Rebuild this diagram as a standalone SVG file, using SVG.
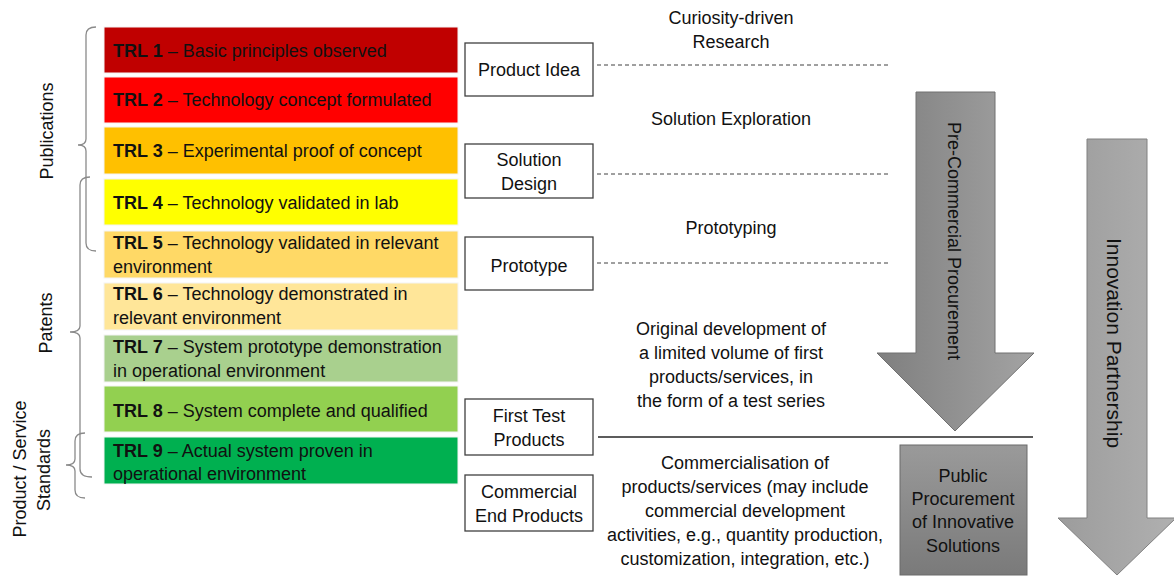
<svg xmlns="http://www.w3.org/2000/svg" width="1174" height="577" viewBox="0 0 1174 577">
<style>
text{font-family:"Liberation Sans",Arial,sans-serif;font-size:18px;fill:#111}
.b{font-weight:bold}
.c{text-anchor:middle}
.trl{stroke:#f4f4f4;stroke-width:1}
.box{fill:#fff;stroke:#404040;stroke-width:1.3}
.brace{fill:none;stroke:#8a8a8a;stroke-width:1.3}
.dash{stroke:#404040;stroke-width:1;stroke-dasharray:4 3}
</style>
<defs>
<linearGradient id="g1" x1="0" y1="0" x2="1" y2="0"><stop offset="0" stop-color="#7f7f7f"/><stop offset="1" stop-color="#a3a3a3"/></linearGradient>
<linearGradient id="g2" x1="0" y1="0" x2="1" y2="0"><stop offset="0" stop-color="#9c9c9c"/><stop offset="1" stop-color="#b0b0b0"/></linearGradient>
<linearGradient id="g3" x1="0" y1="0" x2="0" y2="1"><stop offset="0" stop-color="#9a9a9a"/><stop offset="1" stop-color="#7a7a7a"/></linearGradient>
</defs>

<g id="side-labels">
<text class="c" transform="translate(53,131) rotate(-90)">Publications</text>
<text class="c" transform="translate(52,323) rotate(-90)">Patents</text>
<text class="c" transform="translate(26,469) rotate(-90)">Product / Service</text>
<text class="c" transform="translate(50,470) rotate(-90)">Standards</text>
</g>

<g id="braces">
<path class="brace" d="M96,27 Q86,27 86,35 L86,139 Q86,145 78,145 Q86,145 86,151 L86,243 Q86,251 96,251"/>
<path class="brace" d="M90,177 Q80,177 80,185 L80,326 Q80,332 70,332 Q80,332 80,338 L80,469 Q80,477 92,477"/>
<path class="brace" d="M85,433 Q75,433 75,441 L75,459 Q75,465 66,465 Q75,465 75,471 L75,490 Q75,498 85,498"/>
</g>

<g id="trl1"><rect class="trl" x="104" y="27" width="354" height="46" fill="#C00000"/><text x="113" y="57"><tspan class="b">TRL 1</tspan> – Basic principles observed</text></g>
<g id="trl2"><rect class="trl" x="104" y="77" width="354" height="46" fill="#FF0000"/><text x="113" y="106"><tspan class="b">TRL 2</tspan> – Technology concept formulated</text></g>
<g id="trl3"><rect class="trl" x="104" y="127" width="354" height="47" fill="#FFC000"/><text x="113" y="157"><tspan class="b">TRL 3</tspan> – Experimental proof of concept</text></g>
<g id="trl4"><rect class="trl" x="104" y="179" width="354" height="46" fill="#FFFF00"/><text x="113" y="209"><tspan class="b">TRL 4</tspan> – Technology validated in lab</text></g>
<g id="trl5"><rect class="trl" x="104" y="231" width="354" height="47" fill="#FFD966"/><text x="113" y="249"><tspan class="b">TRL 5</tspan> – Technology validated in relevant</text><text x="113" y="273">environment</text></g>
<g id="trl6"><rect class="trl" x="104" y="283" width="354" height="47" fill="#FFE699"/><text x="113" y="300"><tspan class="b">TRL 6</tspan> – Technology demonstrated in</text><text x="113" y="324">relevant environment</text></g>
<g id="trl7"><rect class="trl" x="104" y="335" width="354" height="47" fill="#A9D08E"/><text x="113" y="353"><tspan class="b">TRL 7</tspan> – System prototype demonstration</text><text x="113" y="377">in operational environment</text></g>
<g id="trl8"><rect class="trl" x="104" y="386" width="354" height="46" fill="#92D050"/><text x="113" y="417"><tspan class="b">TRL 8</tspan> – System complete and qualified</text></g>
<g id="trl9"><rect class="trl" x="104" y="437" width="354" height="47" fill="#00B050"/><text x="113" y="457"><tspan class="b">TRL 9</tspan> – Actual system proven in</text><text x="113" y="480">operational environment</text></g>

<g id="product-idea"><rect class="box" x="465" y="43" width="128" height="53"/><text class="c" x="529" y="76">Product Idea</text></g>
<g id="solution-design"><rect class="box" x="465" y="144" width="128" height="54"/><text class="c" x="529" y="166">Solution</text><text class="c" x="529" y="190">Design</text></g>
<g id="prototype"><rect class="box" x="465" y="237" width="128" height="53"/><text class="c" x="529" y="272">Prototype</text></g>
<g id="first-test"><rect class="box" x="465" y="399" width="128" height="56"/><text class="c" x="529" y="422">First Test</text><text class="c" x="529" y="446">Products</text></g>
<g id="commercial"><rect class="box" x="465" y="475" width="128" height="56"/><text class="c" x="529" y="498">Commercial</text><text class="c" x="529" y="522">End Products</text></g>

<g id="connectors">
<line class="dash" x1="597" y1="65" x2="888" y2="65"/>
<line class="dash" x1="597" y1="174" x2="888" y2="174"/>
<line class="dash" x1="597" y1="263" x2="888" y2="263"/>
<line x1="598" y1="437" x2="1033" y2="437" stroke="#262626" stroke-width="1.6"/>
</g>

<g id="phase-labels">
<text class="c" x="731" y="24">Curiosity-driven</text>
<text class="c" x="731" y="48">Research</text>
<text class="c" x="731" y="125">Solution Exploration</text>
<text class="c" x="731" y="234">Prototyping</text>
<text class="c" x="731" y="335">Original development of</text>
<text class="c" x="731" y="359">a limited volume of first</text>
<text class="c" x="731" y="383">products/services, in</text>
<text class="c" x="731" y="407">the form of a test series</text>
<text class="c" x="745" y="469">Commercialisation of</text>
<text class="c" x="745" y="493">products/services (may include</text>
<text class="c" x="745" y="517">commercial development</text>
<text class="c" x="745" y="541">activities, e.g., quantity production,</text>
<text class="c" x="745" y="565">customization, integration, etc.)</text>
</g>

<g id="pcp-arrow">
<polygon points="916,92 995,92 995,353 1034,353 955,431 877,353 916,353" fill="url(#g1)" stroke="#707070" stroke-width="1"/>
<text class="c" transform="translate(948,241) rotate(90)">Pre-Commercial Procurement</text>
</g>

<g id="ip-arrow">
<polygon points="1087,139 1147,139 1147,518 1176,518 1117,575 1058,518 1087,518" fill="url(#g2)" stroke="#808080" stroke-width="1"/>
<text class="c" style="font-size:21px" transform="translate(1107,343) rotate(90)">Innovation Partnership</text>
</g>

<g id="ppi-box">
<rect x="900" y="445" width="127" height="130" fill="url(#g3)" stroke="#6a6a6a" stroke-width="1"/>
<text class="c" x="963" y="482">Public</text>
<text class="c" x="963" y="505">Procurement</text>
<text class="c" x="963" y="528">of Innovative</text>
<text class="c" x="963" y="552">Solutions</text>
</g>
</svg>
